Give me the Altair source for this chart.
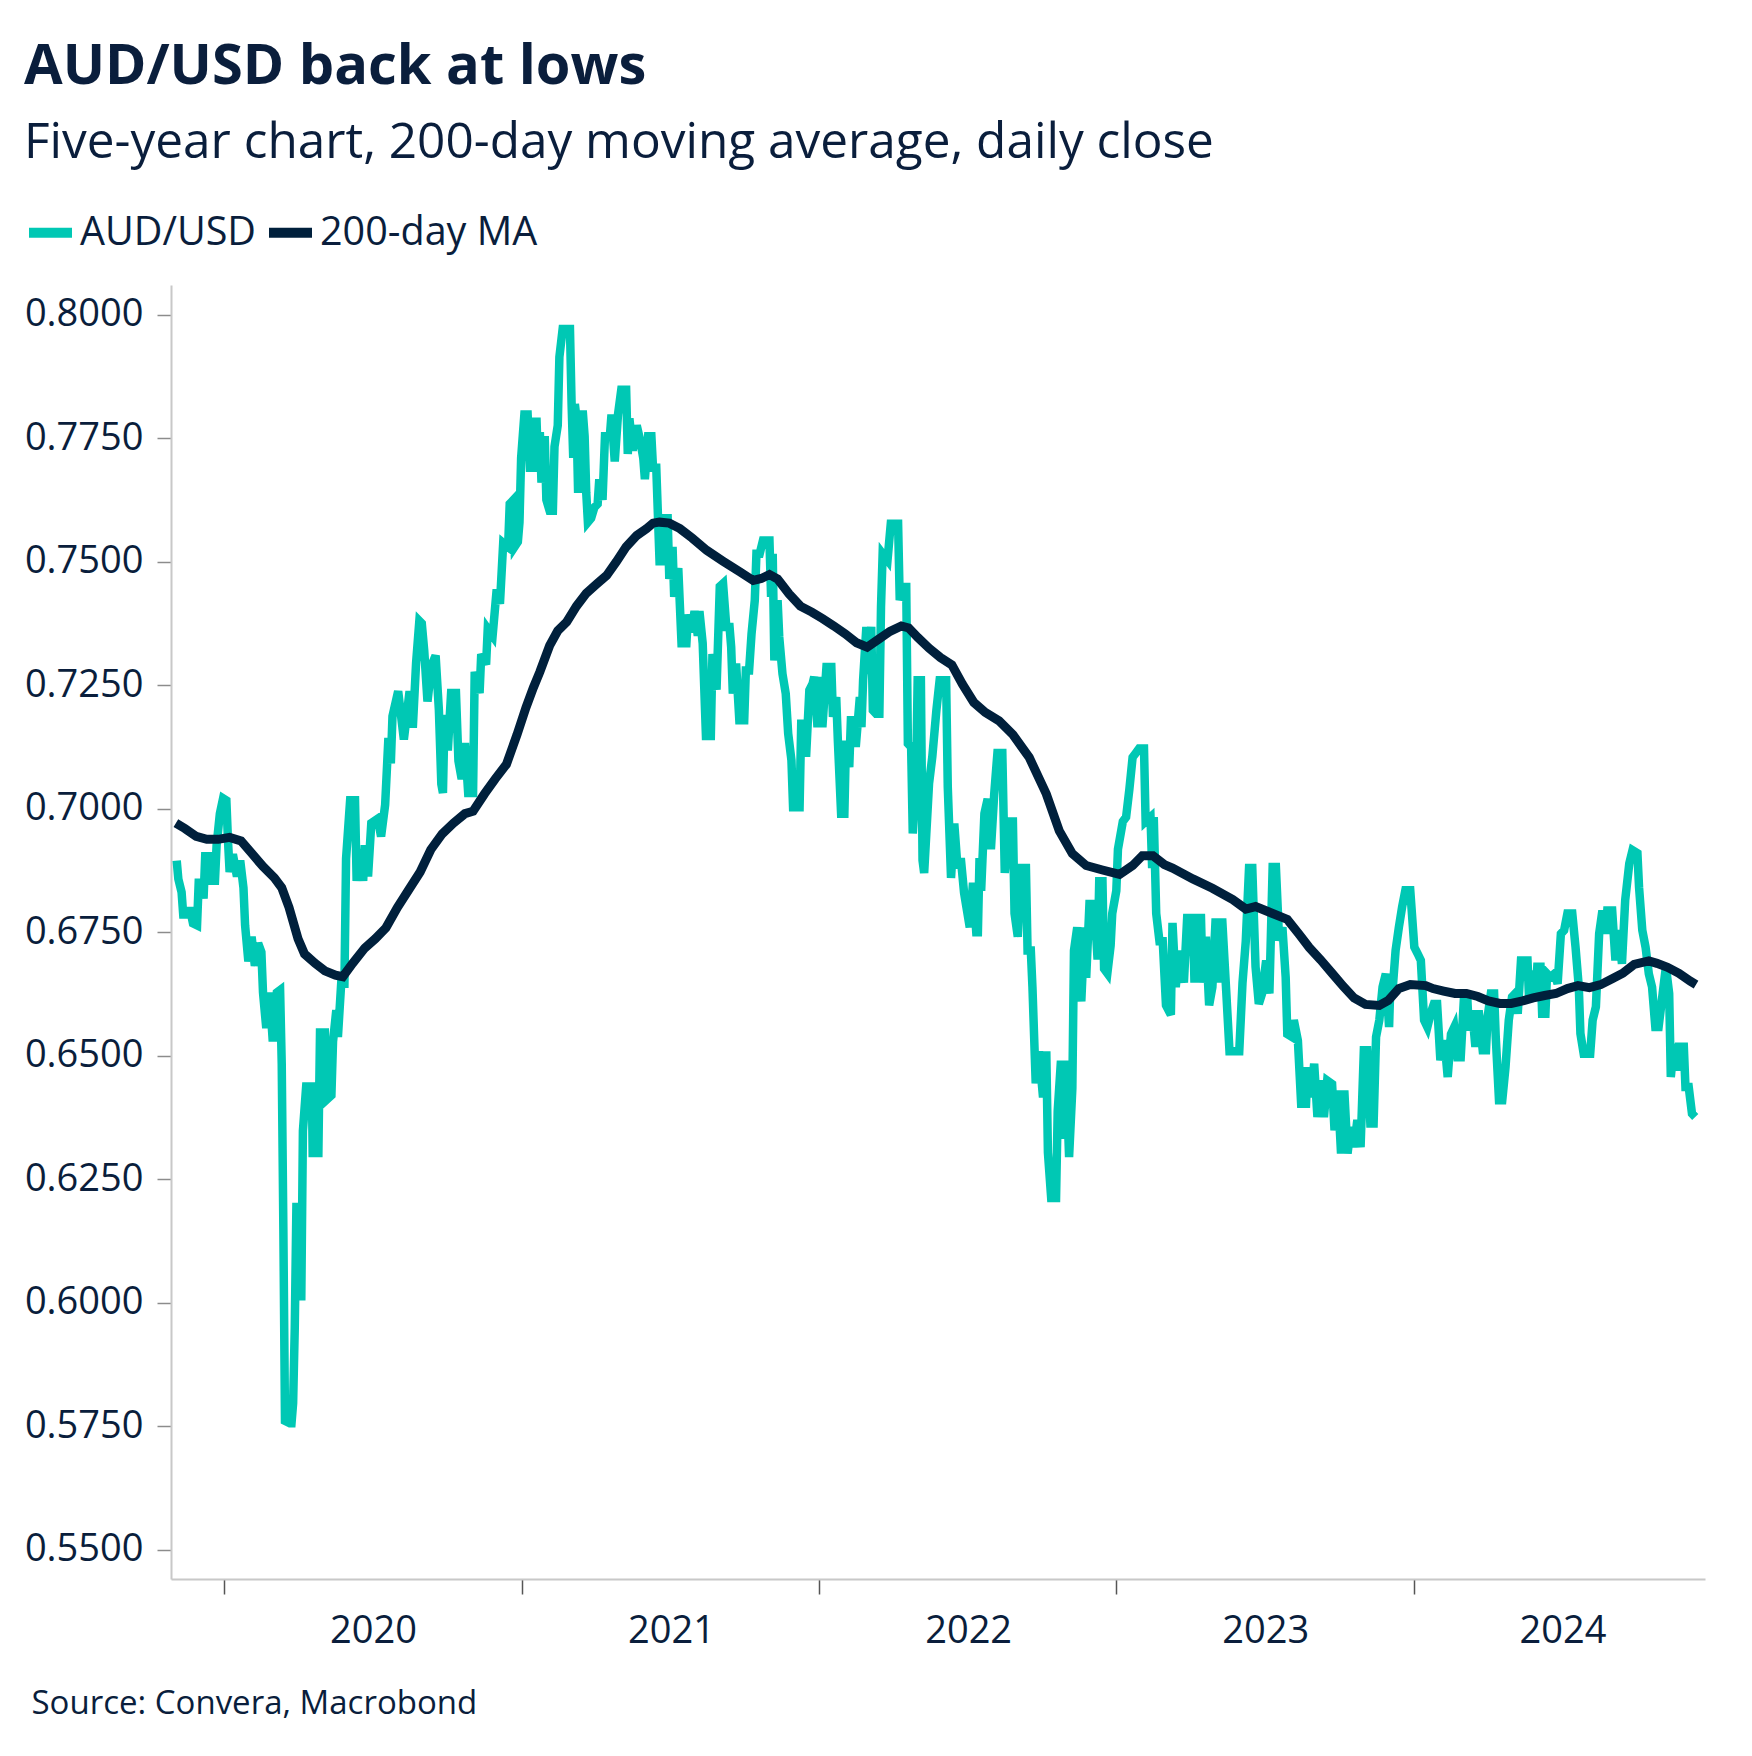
import altair as alt
import pandas as pd

# ---- data (day offsets are days from 2020-01-01) ----
aud_day = [-58, -56, -52, -50, -44, -42, -38, -33, -31, -27, -25, -23, -17, -15, -11, -9, -5, -1,
           3, 5, 7, 11, 16, 20, 24, 26, 30, 34, 38, 42, 46, 48, 52, 56, 60, 65, 69, 71, 73, 75, 81, 83,
           85, 87, 89, 93, 95, 97, 101, 108, 109, 116, 118, 124, 126, 132, 134, 138, 140, 144, 148,
           150, 155, 161, 163, 167, 171, 173, 177, 181, 189, 193, 198, 202, 205, 207, 214, 221, 228,
           232, 236, 240, 243, 246, 250, 255, 260, 264, 267, 269, 271, 275, 279, 285, 288, 292, 296,
           300, 306, 308, 314, 316, 322, 324, 330, 335, 339, 343, 349, 351, 355, 357, 361, 363, 365,
           369, 373, 376, 380, 384, 386, 388, 390, 394, 396, 400, 404, 406, 410, 412, 416, 425, 427,
           429, 431, 433, 435, 437, 441, 443, 445, 447, 451, 455, 459, 461, 465, 468, 474, 476, 480,
           484, 488, 494, 496, 498, 502, 507, 511, 515, 517, 521, 525, 527, 531, 533, 535, 539, 541,
           545, 547, 551, 553, 558, 562, 568, 570, 574, 578, 582, 584, 588, 592, 598, 600, 605, 609,
           613, 617, 621, 623, 625, 629, 633, 639, 641, 645, 648, 652, 654, 658, 662, 670, 672, 674,
           676, 680, 682, 686, 690, 693, 697, 699, 707, 709, 713, 715, 719, 723, 725, 729, 731, 735,
           740, 746, 748, 752, 754, 758, 762, 764, 768, 770, 774, 776, 781, 783, 785, 789, 791, 795,
           797, 801, 805, 807, 809, 815, 819, 828, 830, 834, 838, 840, 844, 846, 850, 852, 856, 858,
           860, 866, 870, 875, 879, 887, 889, 893, 897, 901, 905, 909, 912, 916, 920, 924, 926, 928,
           930, 934, 938, 942, 946, 950, 956, 959, 965, 969, 971, 975, 979, 985, 987, 991, 993, 997,
           1001, 1006, 1010, 1012, 1016, 1022, 1024, 1028, 1030, 1034, 1038, 1042, 1044, 1048, 1053,
           1057, 1059, 1063, 1069, 1073, 1075, 1079, 1081, 1085, 1089, 1091, 1096, 1098, 1104, 1108,
           1112, 1116, 1120, 1124, 1130, 1132, 1138, 1140, 1142, 1145, 1149, 1153, 1157, 1163, 1165,
           1169, 1173, 1177, 1179, 1183, 1190, 1192, 1196, 1200, 1202, 1206, 1210, 1214, 1218, 1222,
           1226, 1231, 1235, 1247, 1251, 1255, 1259, 1263, 1267, 1271, 1275, 1280, 1284, 1288, 1292,
           1296, 1300, 1304, 1306, 1312, 1314, 1319, 1323, 1329, 1331, 1335, 1339, 1343, 1347, 1351,
           1355, 1361, 1364, 1368, 1372, 1376, 1380, 1384, 1388, 1392, 1396, 1400, 1404, 1408, 1412,
           1415, 1419, 1423, 1427, 1431, 1433, 1435, 1439, 1443, 1447, 1451, 1457, 1462, 1466, 1470,
           1474, 1478, 1482, 1486, 1490, 1494, 1499, 1503, 1507, 1511, 1515, 1519, 1523, 1527, 1529,
           1533, 1537, 1541, 1546, 1550, 1552, 1556, 1560, 1562, 1566, 1570, 1574, 1578, 1582, 1586,
           1589, 1593, 1601, 1603, 1607, 1611, 1613, 1617, 1619, 1623, 1625, 1629, 1634, 1638, 1642,
           1646, 1650, 1656, 1660, 1664, 1666, 1670, 1678, 1681, 1685, 1689, 1693, 1697, 1699, 1705,
           1709, 1713, 1717, 1721, 1726, 1730, 1736, 1738, 1742, 1746, 1750, 1754, 1758, 1762, 1767,
           1771, 1775, 1777, 1781, 1785, 1787, 1793, 1795, 1799, 1803, 1807]
aud_val = [0.6895, 0.6858, 0.6831, 0.6786, 0.6786, 0.6800, 0.6768, 0.6764, 0.6850, 0.6850, 0.6818,
           0.6904, 0.6904, 0.6854, 0.6854, 0.6926, 0.6990, 0.7021,
           0.7017, 0.6935, 0.6872, 0.6908, 0.6863, 0.6895, 0.6840, 0.6764, 0.6691, 0.6741, 0.6682,
           0.6728, 0.6710, 0.6628, 0.6556, 0.6628, 0.6529, 0.6628, 0.6633, 0.6483, 0.6149, 0.5761,
           0.5756, 0.5756,
           0.5797, 0.5950, 0.6194, 0.6194, 0.6005, 0.6348, 0.6438, 0.6438, 0.6303, 0.6303, 0.6547,
           0.6547, 0.6411, 0.6420, 0.6529, 0.6592, 0.6538, 0.6646, 0.6646,
           0.6899, 0.7017, 0.7017, 0.6854, 0.6917, 0.6854, 0.6926, 0.6863, 0.6971, 0.6980, 0.6944,
           0.7008, 0.7143, 0.7092, 0.7187, 0.7238, 0.7140, 0.7238,
           0.7164, 0.7295, 0.7380, 0.7375, 0.7320, 0.7217, 0.7290, 0.7310, 0.7200, 0.7050, 0.7032,
           0.7190, 0.7118, 0.7234, 0.7234, 0.7097, 0.7060, 0.7133,
           0.7032, 0.7032, 0.7277, 0.7234, 0.7313, 0.7292, 0.7364, 0.7350, 0.7444, 0.7415, 0.7538,
           0.7530, 0.7617, 0.7624, 0.7530, 0.7540, 0.7580, 0.7710,
           0.7798, 0.7798, 0.7682, 0.7783, 0.7783, 0.7682, 0.7762, 0.7660, 0.7754, 0.7625, 0.7603,
           0.7603, 0.7733, 0.7776, 0.7914, 0.7971, 0.7971, 0.7819,
           0.7710, 0.7819, 0.7790, 0.7639, 0.7798, 0.7798, 0.7754, 0.7639, 0.7580, 0.7588, 0.7610,
           0.7617, 0.7667, 0.7625, 0.7754, 0.7754, 0.7798, 0.7703,
           0.7798, 0.7848, 0.7848, 0.7718, 0.7790, 0.7725, 0.7776, 0.7747, 0.7710, 0.7667, 0.7754,
           0.7754, 0.7690, 0.7690, 0.7595, 0.7501, 0.7501, 0.7588,
           0.7588, 0.7465, 0.7530, 0.7429, 0.7487, 0.7335, 0.7335, 0.7393, 0.7357, 0.7400, 0.7350,
           0.7400, 0.7335, 0.7147, 0.7147, 0.7313, 0.7241, 0.7450,
           0.7456, 0.7368, 0.7368, 0.7327, 0.7233, 0.7294, 0.7179, 0.7179, 0.7280, 0.7280, 0.7354,
           0.7422, 0.7516, 0.7516, 0.7543, 0.7543, 0.7429, 0.7516,
           0.7300, 0.7422, 0.7348, 0.7273, 0.7233, 0.7152, 0.7098, 0.7003, 0.7003, 0.7172, 0.7172,
           0.7105, 0.7240, 0.7253, 0.7267, 0.7165, 0.7267, 0.7165,
           0.7287, 0.7287, 0.7186, 0.7226, 0.7138, 0.6990, 0.6990, 0.7138, 0.7084, 0.7179, 0.7179,
           0.7125, 0.7226, 0.7165, 0.7260, 0.7368, 0.7273, 0.7368,
           0.7199, 0.7192, 0.7192, 0.7408, 0.7516, 0.7503, 0.7577, 0.7577, 0.7422, 0.7449, 0.7449,
           0.7132, 0.7125, 0.6950, 0.7051, 0.7260, 0.7260, 0.6896,
           0.6870, 0.7051, 0.7105, 0.7199, 0.7260, 0.7260, 0.7044, 0.6860, 0.6970, 0.6880, 0.6900,
           0.6830, 0.6800, 0.6760, 0.6850, 0.6750, 0.6750, 0.6900,
           0.6834, 0.6990, 0.7020, 0.6918, 0.7029, 0.7113, 0.7113, 0.6870, 0.6974, 0.6974, 0.6788,
           0.6741, 0.6880, 0.6880, 0.6713, 0.6713, 0.6639, 0.6444,
           0.6509, 0.6416, 0.6509, 0.6304, 0.6212, 0.6212, 0.6388, 0.6490, 0.6332, 0.6490, 0.6295,
           0.6434, 0.6713, 0.6760, 0.6610,
           0.6760, 0.6658, 0.6807, 0.6807, 0.6695, 0.6853, 0.6853, 0.6676, 0.6667, 0.6723, 0.6788,
           0.6834, 0.6918, 0.6974, 0.6983,
           0.7039, 0.7104, 0.7113, 0.7122, 0.7122, 0.6974, 0.6983, 0.6880, 0.6983, 0.6788, 0.6732,
           0.6732, 0.6602, 0.6583, 0.6769,
           0.6639, 0.6713, 0.6667, 0.6648, 0.6779, 0.6779, 0.6648, 0.6779, 0.6779, 0.6648, 0.6741,
           0.6602, 0.6639, 0.6778, 0.6648,
           0.6778, 0.6630, 0.6509, 0.6509, 0.6648, 0.6732, 0.6880, 0.6880, 0.6680, 0.6605, 0.6626,
           0.6693, 0.6626, 0.6882, 0.6882,
           0.6733, 0.6760, 0.6659, 0.6544, 0.6538, 0.6572, 0.6531, 0.6403, 0.6403, 0.6477, 0.6416,
           0.6484, 0.6376, 0.6450, 0.6376,
           0.6450, 0.6443, 0.6349, 0.6430, 0.6302, 0.6430, 0.6302, 0.6356, 0.6315, 0.6370, 0.6315,
           0.6511, 0.6511, 0.6363, 0.6363,
           0.6538, 0.6572, 0.6639, 0.6666, 0.6558, 0.6666, 0.6626, 0.6713, 0.6760, 0.6801, 0.6835,
           0.6835, 0.6720, 0.6707, 0.6693,
           0.6572, 0.6558, 0.6585, 0.6605, 0.6605, 0.6491, 0.6531, 0.6457, 0.6544, 0.6558, 0.6497,
           0.6497, 0.6619, 0.6619, 0.6551,
           0.6592, 0.6518, 0.6592, 0.6511, 0.6511, 0.6578, 0.6626, 0.6626, 0.6538, 0.6410, 0.6410,
           0.6477, 0.6572, 0.6619, 0.6626,
           0.6585, 0.6693, 0.6693, 0.6612, 0.6672, 0.6626, 0.6680, 0.6680, 0.6585, 0.6585, 0.6666,
           0.6659, 0.6666, 0.6646, 0.6747,
           0.6754, 0.6788, 0.6788, 0.6720, 0.6639, 0.6545, 0.6504, 0.6504, 0.6572, 0.6599, 0.6747,
           0.6794, 0.6747, 0.6794, 0.6794,
           0.6693, 0.6754, 0.6686, 0.6815, 0.6889, 0.6916, 0.6910, 0.6841, 0.6754, 0.6720, 0.6666,
           0.6639, 0.6558, 0.6558, 0.6626,
           0.6680, 0.6626, 0.6457, 0.6524, 0.6470, 0.6518, 0.6518, 0.6437, 0.6437, 0.6383, 0.6376]

ma_day = [-59, -48, -34, -21, -7, 7, 21, 34, 48, 62, 71, 80, 91, 99, 112, 124, 137, 146, 158, 173,
          186, 199, 213, 227, 241, 254, 268, 282, 296, 306, 320, 333, 347, 360, 371, 380, 388, 400,
          410, 421, 433, 445, 458, 470, 482, 494, 507, 519, 527, 535, 547, 560, 575, 593, 613, 633,
          650, 660, 670, 680, 694, 708, 722, 735, 749, 763, 777, 790, 804, 818, 832, 841, 852, 866,
          880, 894, 907, 921, 935, 952, 969, 989, 1010, 1026, 1042, 1059, 1079, 1100, 1116, 1128,
          1141, 1155, 1165, 1190, 1214, 1239, 1255, 1267, 1288, 1306, 1320, 1333, 1347, 1361, 1375,
          1388, 1402, 1419, 1430, 1443, 1457, 1476, 1485, 1498, 1512, 1526, 1540, 1553, 1567, 1581,
          1595, 1608, 1622, 1636, 1650, 1663, 1677, 1691, 1705, 1718, 1732, 1750, 1760, 1773, 1787,
          1801, 1808]
ma_val = [0.6971, 0.6960, 0.6944, 0.6938, 0.6938, 0.6942, 0.6935, 0.6910, 0.6883, 0.6860, 0.6840,
          0.6800, 0.6737, 0.6706, 0.6687, 0.6672, 0.6663, 0.6660, 0.6687, 0.6718,
          0.6737, 0.6759, 0.6800, 0.6836, 0.6872, 0.6917, 0.6949, 0.6971, 0.6990, 0.6995, 0.7030,
          0.7060, 0.7090, 0.7150, 0.7205, 0.7245, 0.7277, 0.7330,
          0.7360, 0.7378, 0.7410, 0.7436, 0.7455, 0.7472, 0.7500, 0.7530, 0.7553, 0.7567, 0.7578,
          0.7580, 0.7578, 0.7567, 0.7548, 0.7523, 0.7501, 0.7480,
          0.7462, 0.7466, 0.7474, 0.7465, 0.7435, 0.7410, 0.7398, 0.7385, 0.7370, 0.7354, 0.7336,
          0.7327, 0.7343, 0.7359, 0.7370, 0.7366, 0.7347, 0.7325,
          0.7306, 0.7291, 0.7252, 0.7215, 0.7195, 0.7178, 0.7150, 0.7104, 0.7030, 0.6955, 0.6909,
          0.6885, 0.6876, 0.6867, 0.6885, 0.6905,
          0.6905, 0.6887, 0.6880, 0.6858, 0.6839, 0.6816, 0.6797, 0.6802, 0.6788, 0.6776, 0.6747,
          0.6719, 0.6694, 0.6667, 0.6640,
          0.6617, 0.6604, 0.6602, 0.6612, 0.6636, 0.6644, 0.6642, 0.6636, 0.6631, 0.6626, 0.6626,
          0.6620, 0.6611, 0.6606, 0.6606,
          0.6611, 0.6617, 0.6622, 0.6626, 0.6636, 0.6642, 0.6638, 0.6644, 0.6656, 0.6667, 0.6685,
          0.6692, 0.6687, 0.6679, 0.6667,
          0.6651, 0.6644]

series_names = ["AUD/USD", "200-day MA"]
year_ticks = [2020, 2021, 2022, 2023, 2024]
y_ticks = [0.55, 0.575, 0.60, 0.625, 0.65, 0.675, 0.70, 0.725, 0.75, 0.775, 0.80]

TEAL = "#00C8B4"
NAVY = "#00203C"
TEXT = "#0A1E3C"
FONT = "Open Sans"

base = pd.Timestamp("2020-01-01")
aud = pd.DataFrame({
    "date": [(base + pd.Timedelta(days=d)).strftime("%Y-%m-%d") for d in aud_day],
    "value": aud_val,
    "series": series_names[0],
})
ma = pd.DataFrame({
    "date": [(base + pd.Timedelta(days=d)).strftime("%Y-%m-%d") for d in ma_day],
    "value": ma_val,
    "series": series_names[1],
})

x_enc = alt.X(
    "date:T",
    scale=alt.Scale(
        type="utc",
        domain=[alt.DateTime(year=2019, month=10, date=28, utc=True),
                alt.DateTime(year=2024, month=12, date=24, utc=True)],
    ),
    axis=alt.Axis(
        values=[alt.DateTime(year=y, month=1, date=1, utc=True) for y in year_ticks],
        format="%Y",
        labelOffset=149,
        labelFlush=False,
        labelOverlap=False,
        labelBaseline="alphabetic",
        labelPadding=48,
        tickSize=15,
        tickColor="#555555",
        tickWidth=1.5,
        domainColor="#C8C8C8",
        domainWidth=2,
        labelFontSize=38,
        labelFont=FONT,
        labelColor=TEXT,
        title="Source: Convera, Macrobond",
        titleX=-140,
        titleY=134,
        titleAlign="left",
        titleBaseline="alphabetic",
        titleFontSize=33,
        titleFontWeight="normal",
        titleFont=FONT,
        titleColor=TEXT,
    ),
)
y_enc = alt.Y(
    "value:Q",
    scale=alt.Scale(domain=[0.5441, 0.8060], nice=False, zero=False),
    axis=alt.Axis(
        values=y_ticks,
        format=".4f",
        title=None,
        tickSize=14,
        tickColor="#8C8C8C",
        tickWidth=1.5,
        domainColor="#C8C8C8",
        domainWidth=2,
        labelPadding=14,
        labelFontSize=38,
        labelFont=FONT,
        labelColor=TEXT,
    ),
)
color_enc = alt.Color(
    "series:N",
    scale=alt.Scale(domain=series_names, range=[TEAL, NAVY]),
    legend=alt.Legend(
        title=None,
        orient="none",
        legendX=-147,
        legendY=-79,
        direction="horizontal",
        symbolType="stroke",
        symbolSize=1849,
        symbolStrokeWidth=10,
        labelFontSize=39.5,
        labelFont=FONT,
        labelColor=TEXT,
        labelLimit=500,
        labelOffset=3,
        columnPadding=-8,
        padding=0,
    ),
)

aud_line = alt.Chart(aud).mark_line(strokeWidth=8.5).encode(x=x_enc, y=y_enc, color=color_enc)
ma_line = alt.Chart(ma).mark_line(strokeWidth=9).encode(x=x_enc, y=y_enc, color=color_enc)

chart = alt.layer(aud_line, ma_line).properties(
    width=1534,
    height=1294,
    title=alt.Title(
        text="AUD/USD back at lows",
        subtitle="Five-year chart, 200-day moving average, daily close",
        anchor="start",
        frame="bounds",
        font=FONT,
        fontSize=56,
        fontWeight="bold",
        color=TEXT,
        subtitleFont=FONT,
        subtitleFontSize=49.5,
        subtitleColor=TEXT,
        subtitlePadding=23,
        offset=38,
    ),
    padding={"left": 163, "top": 277, "right": 30, "bottom": 150},
    autosize=alt.AutoSizeParams(type="none"),
).configure_view(stroke=None).configure_axis(grid=False)

chart.save("out.html", embed_options={"renderer": "svg", "actions": False})
